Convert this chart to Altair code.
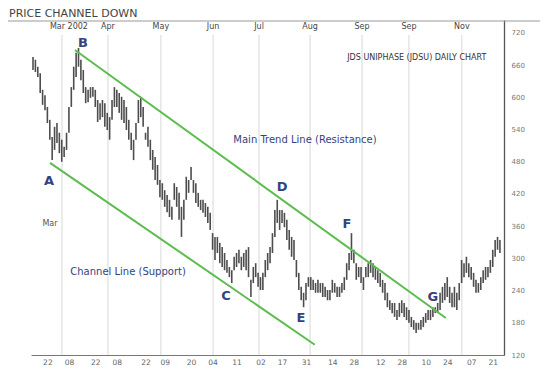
import altair as alt
import pandas as pd

# Daily high / low, one value per trading day
highs = [675,670,657,645,614,604,582,558,526,545,
         552,534,521,508,534,582,619,657,683,692,
         670,651,619,614,619,619,614,595,589,595,
         589,571,563,595,619,614,608,601,595,582,
         558,534,521,552,595,601,582,534,545,521,
         502,489,474,446,440,427,418,409,396,440,
         433,422,396,409,452,446,470,446,440,422,
         409,409,403,396,385,347,340,340,329,321,
         310,297,284,278,303,310,316,303,310,316,
         321,260,284,291,273,265,273,297,310,321,
         347,390,409,390,390,385,372,353,340,334,
         297,273,247,236,254,265,265,260,254,260,
         254,254,247,241,241,260,254,247,247,254,
         265,291,310,347,316,291,284,284,265,284,
         291,297,291,284,278,273,260,254,236,222,
         217,217,204,217,222,217,209,204,191,185,
         180,180,185,191,198,204,204,209,209,217,
         236,247,254,265,247,236,247,236,254,297,
         291,303,291,284,273,260,254,265,278,284,
         284,297,316,334,340,334]
lows = [651,647,638,608,586,576,552,521,483,502,
        515,496,480,489,502,534,582,614,638,657,
        632,608,589,591,599,601,582,554,558,563,
        545,539,521,558,582,582,571,558,552,539,
        521,502,483,521,552,563,545,521,508,483,
        465,446,437,414,409,396,386,377,372,409,
        396,372,340,372,409,422,446,422,403,396,
        390,385,377,366,353,316,297,310,291,284,
        278,273,265,254,278,284,291,278,284,278,
        265,228,254,265,247,241,241,265,278,291,
        310,340,366,353,366,358,334,316,303,297,
        265,241,222,209,222,247,241,241,236,236,
        236,228,228,222,222,236,236,228,228,236,
        241,260,278,297,291,260,265,254,241,265,
        265,273,265,260,254,247,236,222,209,204,
        198,191,185,191,198,191,185,180,172,167,
        161,167,167,172,180,185,185,191,198,198,
        204,217,222,228,217,209,209,204,222,254,
        265,273,265,260,247,236,236,241,254,260,
        265,273,284,303,316,310]

day_tick_idx = [6, 15, 26, 35, 47, 55, 66, 75, 85, 95, 104, 114, 125, 134, 145, 154, 164, 173, 183, 192]
day_tick_lbl = ["22","08","22","08","22","09","20","04","11","02","17","31","14","28","12","28","10","24","07","21"]

month_grid_idx = [12.1, 31.3, 53.4, 75.2, 94.4, 115.7, 137.4, 157.0, 179.1]
month_lbl_idx = [15.0, 31.3, 53.4, 75.2, 94.4, 115.7, 137.4, 157.0, 179.1]
month_lbl = ["Mar 2002","Apr","May","Jun","Jul","Aug","Sep","Sep","Nov"]

price_ticks = [120, 180, 240, 300, 360, 420, 480, 540, 600, 660, 720]

trend_name = ["Resistance", "Resistance", "Support", "Support"]
trend_idx = [17.5, 172.4, 7.1, 117.7]
trend_price = [688, 189, 478, 139]

point_lbl = ["A", "B", "C", "D", "E", "F", "G"]
point_idx = [6.7, 20.9, 80.6, 104.0, 111.9, 131.1, 167.0]
point_price = [444, 701, 230, 433, 189, 364, 228]

line_note = ["Main Trend Line (Resistance)", "Channel Line (Support)"]
line_note_idx = [113.6, 39.7]
line_note_price = [520, 275]

chart_note = ["JDS UNIPHASE (JDSU) DAILY CHART"]
chart_note_idx = [160.3]
chart_note_price = [673]

side_note = ["Mar"]
side_note_idx = [7.1]
side_note_price = [364]

title_text = ["PRICE CHANNEL DOWN"]

FONT = "DejaVu Sans"
xs = alt.Scale(domain=[-0.84, 196.7], nice=False, zero=False)
ys = alt.Scale(domain=[120, 744], nice=False, zero=False)

idx_arr = "[" + ",".join(str(v) for v in day_tick_idx) + "]"
lbl_arr = "[" + ",".join("'" + v + "'" for v in day_tick_lbl) + "]"

x_axis = alt.Axis(
    values=day_tick_idx, labelExpr=lbl_arr + "[indexof(" + idx_arr + ", datum.value)]",
    orient="bottom", ticks=False, grid=False, domainColor="#777", domainWidth=1,
    labelColor="#666", labelFontSize=7.5, labelFont=FONT, labelPadding=3, title=None)
y_axis = alt.Axis(
    values=price_ticks, orient="right", ticks=False, grid=False, domainColor="#555",
    domainWidth=1.3, labelColor="#777", labelFontSize=7, labelFont=FONT,
    labelPadding=7, title=None)

bars_df = pd.DataFrame({"day": list(range(len(highs))), "high": highs, "low": lows})
grid_df = pd.DataFrame({"idx": month_grid_idx})
mlbl_df = pd.DataFrame({"idx": month_lbl_idx, "label": month_lbl})
trend_df = pd.DataFrame({"line": trend_name, "idx": trend_idx, "price": trend_price})
pts_df = pd.DataFrame({"label": point_lbl, "idx": point_idx, "price": point_price})
ln_df = pd.DataFrame({"label": line_note, "idx": line_note_idx, "price": line_note_price})
cn_df = pd.DataFrame({"label": chart_note, "idx": chart_note_idx, "price": chart_note_price})
sn_df = pd.DataFrame({"label": side_note, "idx": side_note_idx, "price": side_note_price})
tt_df = pd.DataFrame({"label": title_text})


def X(field):
    return alt.X(field, scale=xs, axis=x_axis)


def Y(field):
    return alt.Y(field, scale=ys, axis=y_axis)


grid = alt.Chart(grid_df).mark_rule(color="#d8d8d8", strokeWidth=1).encode(
    x=X("idx:Q"),
    y=alt.Y(datum=120, scale=ys, axis=y_axis),
    y2=alt.Y2(datum=716),
)

bars = alt.Chart(bars_df).mark_rule(color="#3a3a3a", strokeWidth=1.6, opacity=0.9).encode(
    x=X("day:Q"),
    y=Y("low:Q"),
    y2="high:Q",
)

trend = alt.Chart(trend_df).mark_line(color="#5cbd4e", strokeWidth=2).encode(
    x=X("idx:Q"),
    y=Y("price:Q"),
    detail="line:N",
)

mtext = alt.Chart(mlbl_df).mark_text(font=FONT, fontSize=8, color="#444", baseline="middle").encode(
    x=X("idx:Q"),
    y=alt.Y(datum=731, scale=ys, axis=y_axis),
    text="label:N",
)

ptext = alt.Chart(pts_df).mark_text(font=FONT, fontSize=13, fontWeight="bold", color="#34437a",
                                     baseline="middle").encode(
    x=X("idx:Q"),
    y=Y("price:Q"),
    text="label:N",
)

ltext = alt.Chart(ln_df).mark_text(font=FONT, fontSize=10, color="#34437a", baseline="middle").encode(
    x=X("idx:Q"),
    y=Y("price:Q"),
    text="label:N",
)

ctext = alt.Chart(cn_df).mark_text(font=FONT, fontSize=8, color="#333", baseline="middle").encode(
    x=X("idx:Q"),
    y=Y("price:Q"),
    text="label:N",
)

stext = alt.Chart(sn_df).mark_text(font=FONT, fontSize=8, color="#555", baseline="middle").encode(
    x=X("idx:Q"),
    y=Y("price:Q"),
    text="label:N",
)

title_mark = alt.Chart(tt_df).mark_text(font=FONT, fontSize=11, color="#444", align="left",
                                        baseline="top").encode(
    x=alt.value(-22), y=alt.value(-12), text="label:N"
)

header_line = alt.Chart(pd.DataFrame({"k": [0]})).mark_rule(color="#999", strokeWidth=1).encode(
    x=alt.value(-23), x2=alt.value(509), y=alt.value(1)
)

chart = alt.layer(grid, bars, trend, mtext, ptext, ltext, ctext, stext, title_mark, header_line).properties(
    width=473, height=335,
    background="white",
    autosize=alt.AutoSizeParams(type="none"),
    padding={"left": 23, "top": 12, "right": 36, "bottom": 20},
).configure_view(strokeWidth=0)

chart.save("out.html", embed_options={"renderer": "svg", "actions": False})
